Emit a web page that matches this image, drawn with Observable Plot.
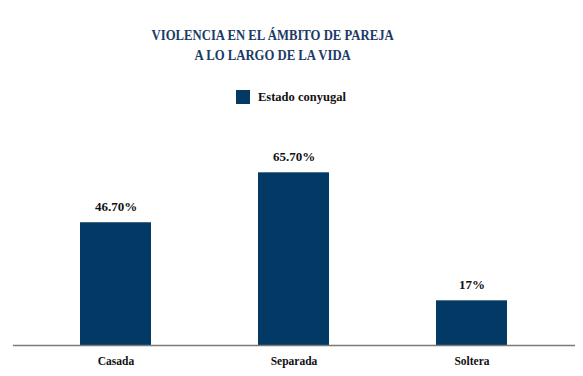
<!DOCTYPE html>
<html><head><meta charset="utf-8">
<script src="https://cdn.jsdelivr.net/npm/d3@7"></script>
<script src="https://cdn.jsdelivr.net/npm/@observablehq/plot@0.6"></script>
<style>
body{margin:0;background:#fff;width:583px;height:376px;overflow:hidden;font-family:'Liberation Serif',serif;}
#title{padding-top:25px;width:546px;height:40px;text-align:center;color:#1c3a66;font-weight:bold;font-size:15.5px;line-height:20px;}
#title span{display:inline-block;transform:scaleX(0.82);transform-origin:center;white-space:nowrap;}
#legend{margin-top:24px;height:16px;line-height:16px;font-size:12.5px;font-weight:bold;color:#111;position:relative;}
#legend span.sw{position:absolute;left:236px;top:1px;width:14px;height:14px;background:#033a65;}
#legend span.tx{position:absolute;left:258px;top:0;}
#chart{display:block}
#chart svg text{font-family:'Liberation Serif',serif;}
</style></head><body>
<div id="title"><span>VIOLENCIA EN EL ÁMBITO DE PAREJA<br>A LO LARGO DE LA VIDA</span></div>
<div id="legend"><span class="sw"></span><span class="tx">Estado conyugal</span></div>
<div id="chart"></div>
<script>
const categories = ["Casada", "Separada", "Soltera"];
const values = [46.7, 65.7, 17];
const labels = ["46.70%", "65.70%", "17%"];
const data = categories.map((c, i) => ({cat: c, v: values[i], label: labels[i]}));
const navy = "#033a65";
const chart = Plot.plot({
  width: 583, height: 271,
  marginLeft: 13, marginRight: 8, marginTop: 56, marginBottom: 31,
  style: {fontFamily: "'Liberation Serif', serif", background: "#fff"},
  x: {domain: categories, paddingInner: 0.6, paddingOuter: 0.375, label: null, tickSize: 0, tickPadding: 10},
  y: {domain: [0, 70], axis: null},
  marks: [
    Plot.barY(data, {x: "cat", y: "v", fill: navy}),
    Plot.ruleY([0], {stroke: "#7a7a7a", strokeWidth: 1.5}),
    Plot.text(data, {x: "cat", y: "v", text: "label", dy: -16, fontSize: 13, fontWeight: "bold", fill: "#111"}),
    Plot.axisX({tickSize: 0, tickPadding: 11, fontSize: 11.5, fontWeight: "bold", fill: "#111", label: null})
  ]
});
chart.querySelectorAll('[aria-label="x-axis tick label"] text').forEach(t => {t.setAttribute("font-weight","bold");});
document.getElementById("chart").appendChild(chart);
</script>
</body></html>
